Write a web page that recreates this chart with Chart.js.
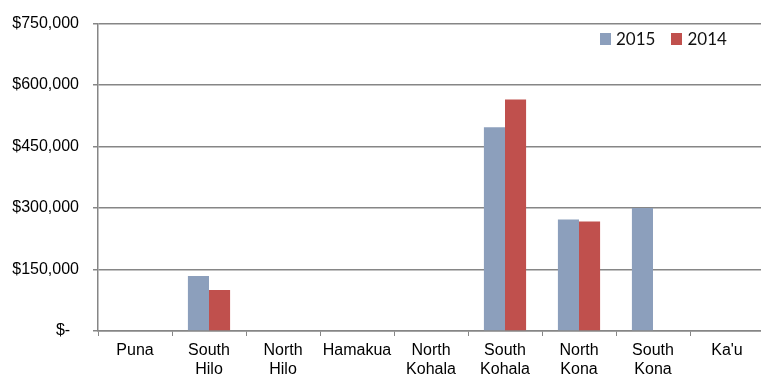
<!DOCTYPE html>
<html>
<head>
<meta charset="utf-8">
<script src="https://cdn.jsdelivr.net/npm/chart.js@4/dist/chart.umd.min.js"></script>
<style>
  html,body{margin:0;padding:0;background:#fff;overflow:hidden;}
  #wrap{position:relative;width:764px;height:377px;}
  #legend{position:absolute;top:28px;left:600px;font:17px Lato,"Open Sans",sans-serif;color:#111;display:flex;gap:16px;}
  #legend span{display:flex;align-items:center;}
  #legend i{display:inline-block;width:11px;height:12px;margin-right:5px;}
</style>
</head>
<body>
<div id="wrap">
  <canvas id="c" width="764" height="377"></canvas>
  <div id="legend"></div>
</div>
<script>
// districts on the x axis
const districts=[['Puna'],['South','Hilo'],['North','Hilo'],['Hamakua'],['North','Kohala'],['South','Kohala'],['North','Kona'],['South','Kona'],["Ka'u"]];
// yearly totals per district, dollars
const totals2015=[0,134000,0,0,0,497000,272000,300000,0];
const totals2014=[0,100000,0,0,0,565000,267000,0,0];
const yTicks=[0,150000,300000,450000,600000,750000];
const seriesNames=['2015','2014'];
const seriesColors=['#8c9fbc','#c0504d'];

(function(){
  const money=v=>v===0?'$-  ':'$'+Number(v).toLocaleString('en-US');
  const ds=[totals2015,totals2014].map((d,i)=>({label:seriesNames[i],data:d,backgroundColor:seriesColors[i],borderWidth:0,categoryPercentage:0.57,barPercentage:1}));
  new Chart(document.getElementById('c'),{
    type:'bar',
    data:{labels:districts,datasets:ds},
    options:{
      responsive:false,animation:false,
      layout:{padding:{top:17,right:0,bottom:0,left:0}},
      plugins:{legend:{display:false},tooltip:{enabled:false}},
      scales:{
        x:{
          grid:{offset:true,drawOnChartArea:false,tickLength:5,color:'#868686'},
          border:{color:'#868686',width:1.5},
          ticks:{color:'#000',font:{family:'"Liberation Sans",Arial',size:16},padding:5,maxRotation:0,autoSkip:false},
          afterFit:s=>{s.height=46;}
        },
        y:{
          min:0,max:750000,
          afterBuildTicks:s=>{s.ticks=yTicks.map(v=>({value:v}));},
          grid:{color:'#868686',lineWidth:1.5,tickLength:5},
          border:{color:'#868686',width:1.5},
          ticks:{color:'#000',font:{family:'"Liberation Sans",Arial',size:16},padding:14,callback:money},
          afterFit:s=>{s.width=98;}
        }
      }
    }
  });
  // legend drawn over the plot, top right
  document.getElementById('legend').innerHTML=seriesNames.map((n,i)=>`<span><i style="background:${seriesColors[i]}"></i>${n}</span>`).join('');
})();
</script>
</body>
</html>
